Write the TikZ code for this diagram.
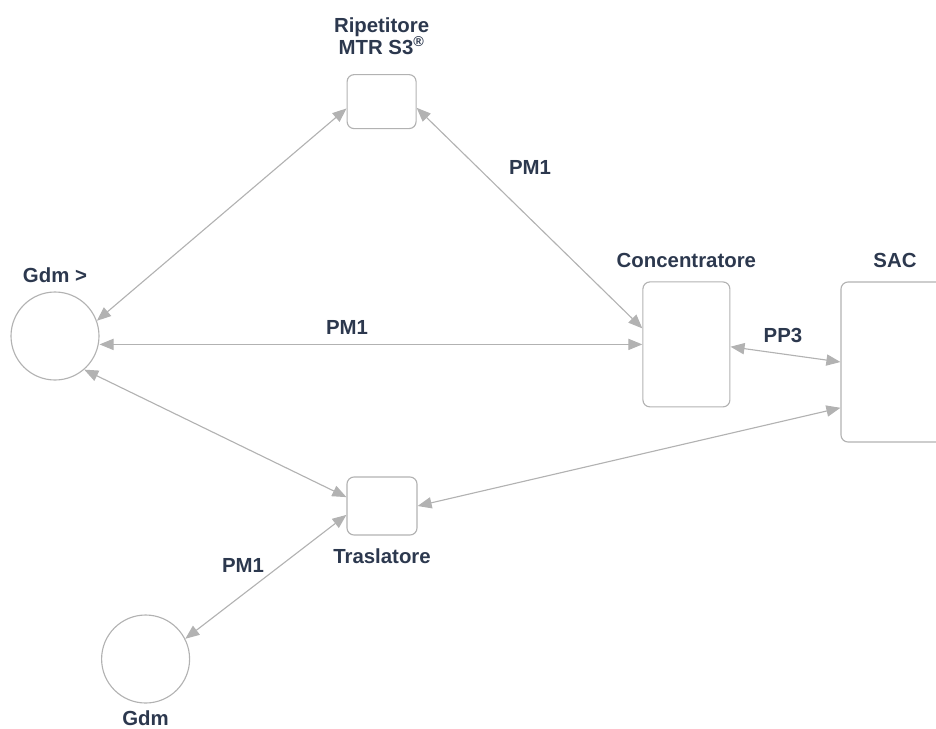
\documentclass[tikz,border=0pt]{standalone}
\usepackage{fontspec}
\setmainfont{Liberation Sans}
\usetikzlibrary{arrows.meta,positioning}

\definecolor{labelblue}{RGB}{44,56,78}
\definecolor{linegray}{RGB}{178,178,178}

\tikzset{
    box/.style={draw=linegray, line width=0.8pt, rounded corners=5pt, inner sep=0pt},
    gdmnode/.style={draw=linegray, line width=0.8pt, circle, minimum size=2.2cm, inner sep=0pt},
    lbl/.style={text=labelblue, font=\fontsize{14.5}{15.6}\selectfont\bfseries, inner sep=0pt, align=center},
    link/.style={draw=linegray, line width=0.8pt, {Triangle[length=10pt,width=8pt]}-{Triangle[length=10pt,width=8pt]}}
}

\begin{document}
\begin{tikzpicture}
                \useasboundingbox (0, 0) rectangle (23.4, -18.2);

                \node [gdmnode] (gdm) at (1.375, -8.4) {};
                \node [gdmnode] (gdmlow) at (3.64, -16.475) {};
                \node [box, minimum width=1.725cm, minimum height=1.35cm] (rip) at (9.54, -2.54) {};
                \node [box, minimum width=1.75cm, minimum height=1.45cm] (tras) at (9.55, -12.65) {};
                \node [box, minimum width=2.175cm, minimum height=3.125cm] (conc) at (17.16, -8.61) {};
                \node [box, minimum width=2.7cm, minimum height=4cm] (sac) at (22.375, -9.05) {};

                \node [lbl, above=0.22cm of gdm] (gdmlabel) {Gdm >};
                \node [lbl, below=0.18cm of gdmlow] (gdmlowlabel) {Gdm};
                \node [lbl, above=0.48cm of rip] (riplabel) {Ripetitore\\MTR S3\textsuperscript{®}};
                \node [lbl, below=0.33cm of tras] (traslabel) {Traslatore};
                \node [lbl, above=0.34cm of conc] (conclabel) {Concentratore};
                \node [lbl, above=0.34cm of sac] (saclabel) {SAC};

                \draw [link] (gdm.20) to (rip.191);
                \draw [link] (rip.-10) to (conc.160);
                \draw [link] (conc.west -| gdm.east) to (conc.west);
                \draw [link] (conc.-3) to (sac.180);
                \draw [link] (gdm.-49) to (tras.166);
                \draw [link] (sac.220) to (tras.east);
                \draw [link] (tras.194) to (gdmlow.27);

                \node [lbl] (pmtop) at (13.25, -4.175) {PM1};
                \node [lbl] (pmmid) at (8.675, -8.175) {PM1};
                \node [lbl] (ppsac) at (19.575, -8.375) {PP3};
                \node [lbl] (pmlow) at (6.075, -14.125) {PM1};
\end{tikzpicture}
\end{document}
